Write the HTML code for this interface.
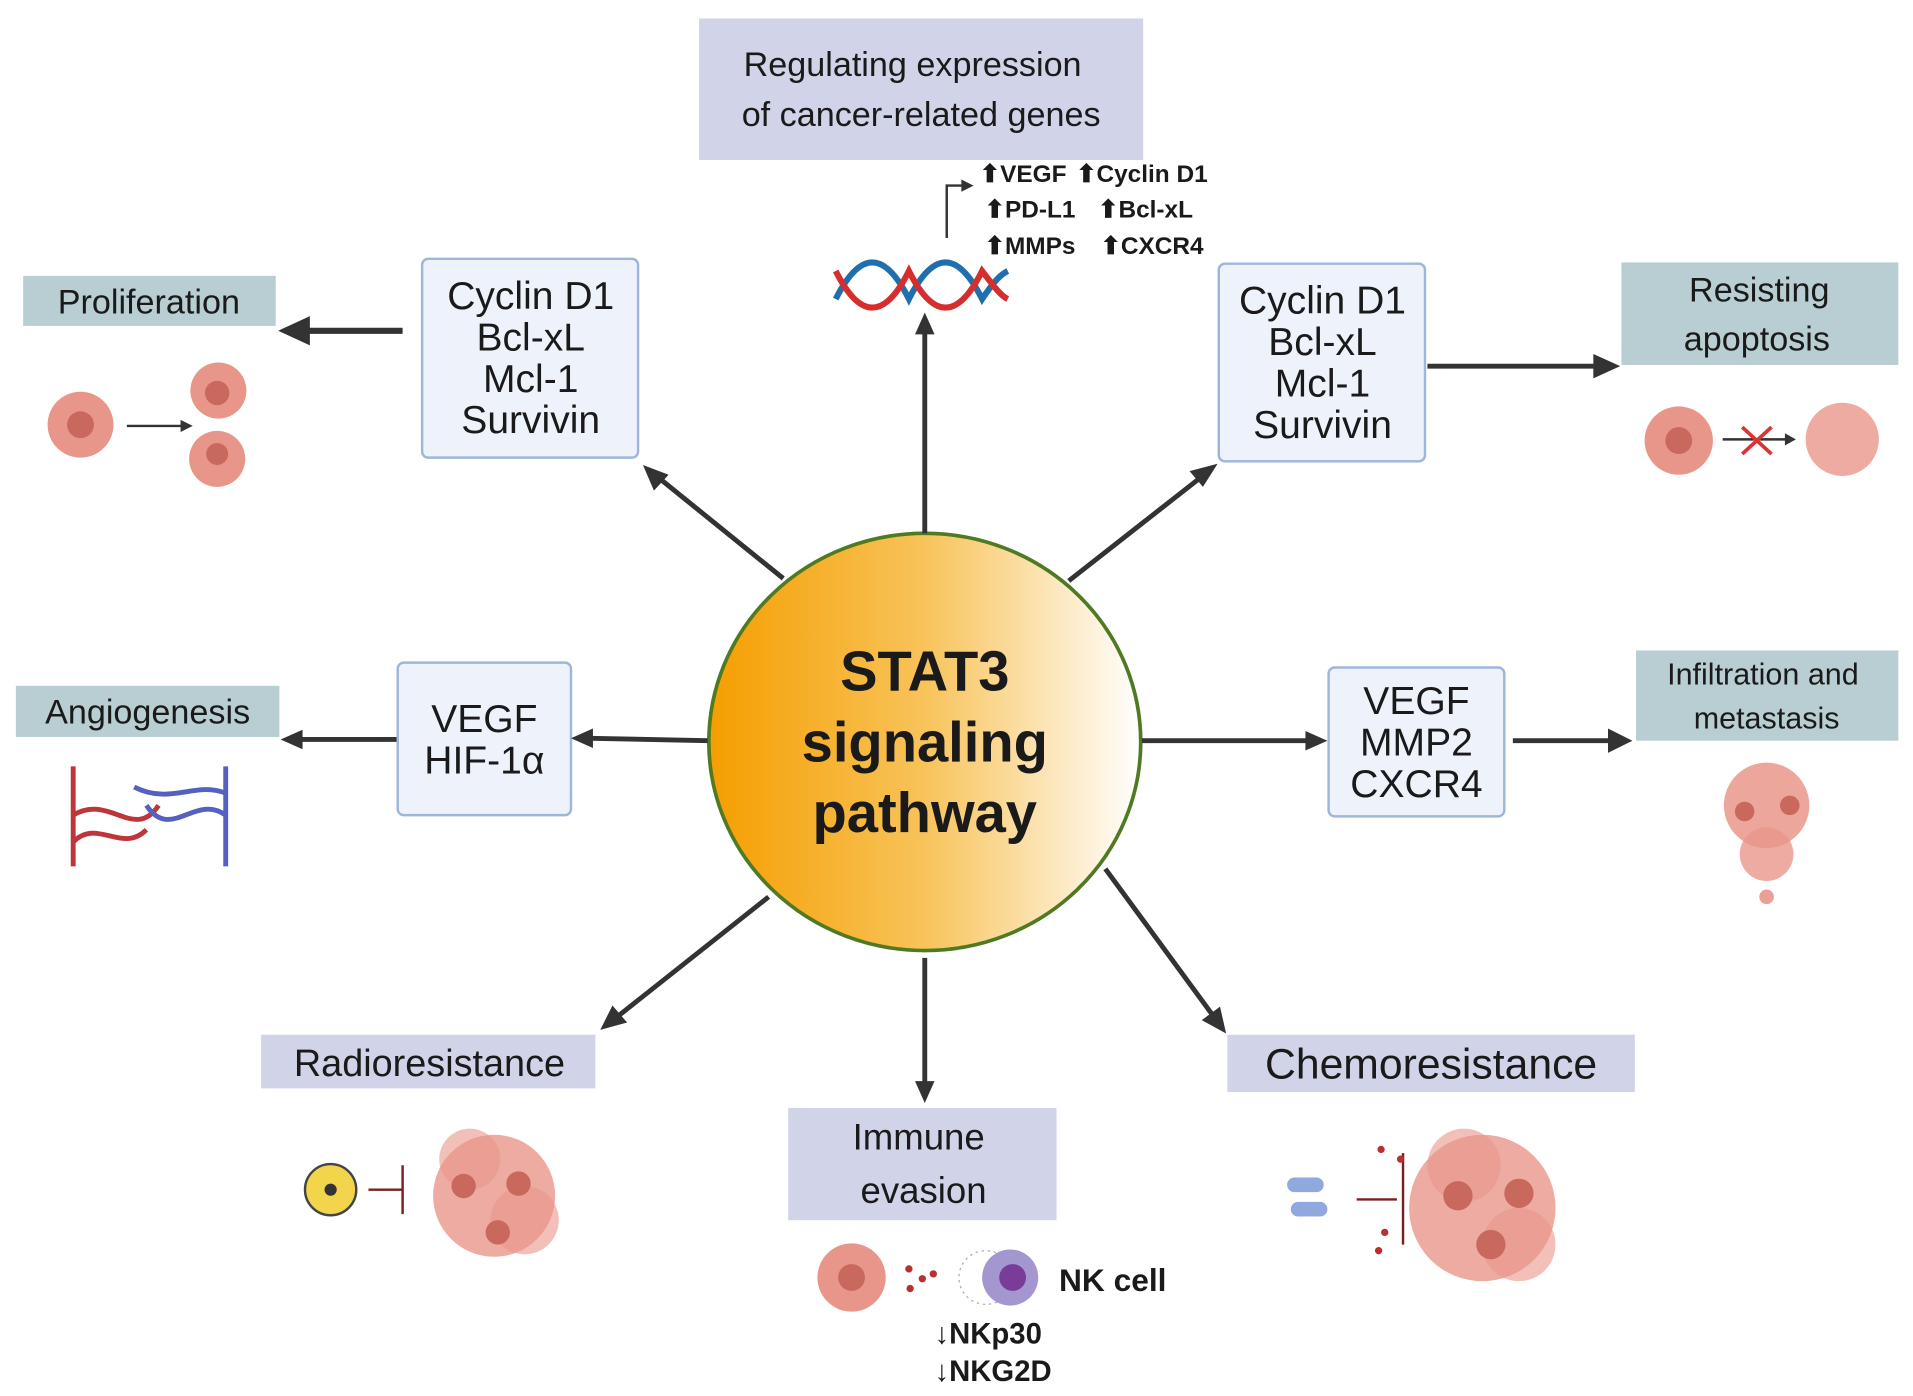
<!DOCTYPE html>
<html><head><meta charset="utf-8"><style>
html,body{margin:0;padding:0;background:#fff}
svg{display:block}
text{font-family:"Liberation Sans",sans-serif;fill:#1a1a1a}
</style></head><body>
<svg width="1913" height="1396" viewBox="0 0 1568 1144" xmlns="http://www.w3.org/2000/svg">
<defs>
<linearGradient id="g" x1="0" x2="1" y1="0" y2="0">
<stop offset="0" stop-color="#f59e00"/><stop offset="0.5" stop-color="#f8c35a"/><stop offset="1" stop-color="#ffffff"/>
</linearGradient>
</defs>
<!-- boxes -->
<rect x="573" y="15" width="364" height="116" fill="#d1d4e9"/>
<text x="748" y="62" font-size="28" text-anchor="middle">Regulating expression</text>
<text x="755" y="103" font-size="28" text-anchor="middle">of cancer-related genes</text>

<rect x="19" y="226" width="207" height="41" fill="#b9ced2"/>
<text x="122" y="257" font-size="28" text-anchor="middle">Proliferation</text>

<rect x="346" y="212" width="177" height="163" rx="5" fill="#eef3fb" stroke="#9db6da" stroke-width="2"/>
<g font-size="32" text-anchor="middle"><text x="435" y="253">Cyclin D1</text><text x="435" y="287">Bcl-xL</text><text x="435" y="321">Mcl-1</text><text x="435" y="355">Survivin</text></g>

<rect x="999" y="216" width="169" height="162" rx="5" fill="#eef3fb" stroke="#9db6da" stroke-width="2"/>
<g font-size="32" text-anchor="middle"><text x="1084" y="257">Cyclin D1</text><text x="1084" y="291">Bcl-xL</text><text x="1084" y="325">Mcl-1</text><text x="1084" y="359">Survivin</text></g>

<rect x="1329" y="215" width="227" height="84" fill="#b9ced2"/>
<text x="1442" y="247" font-size="28" text-anchor="middle">Resisting</text>
<text x="1440" y="287" font-size="28" text-anchor="middle">apoptosis</text>

<rect x="13" y="562" width="216" height="42" fill="#b9ced2"/>
<text x="121" y="593" font-size="28" text-anchor="middle">Angiogenesis</text>

<rect x="326" y="543" width="142" height="125" rx="5" fill="#eef3fb" stroke="#9db6da" stroke-width="2"/>
<g font-size="32" text-anchor="middle"><text x="397" y="600">VEGF</text><text x="397" y="634">HIF-1α</text></g>

<rect x="1089" y="547" width="144" height="122" rx="5" fill="#eef3fb" stroke="#9db6da" stroke-width="2"/>
<g font-size="32" text-anchor="middle"><text x="1161" y="585">VEGF</text><text x="1161" y="619">MMP2</text><text x="1161" y="653">CXCR4</text></g>

<rect x="1341" y="533" width="215" height="74" fill="#b9ced2"/>
<text x="1445" y="561" font-size="25" text-anchor="middle">Infiltration and</text>
<text x="1448" y="597" font-size="25" text-anchor="middle">metastasis</text>

<rect x="214" y="848" width="274" height="44" fill="#d1d4e9"/>
<text x="352" y="882" font-size="31" text-anchor="middle">Radioresistance</text>

<rect x="646" y="908" width="220" height="92" fill="#d1d4e9"/>
<text x="753" y="942" font-size="30" text-anchor="middle">Immune</text>
<text x="757" y="986" font-size="30" text-anchor="middle">evasion</text>

<rect x="1006" y="848" width="334" height="47" fill="#d1d4e9"/>
<text x="1173" y="884" font-size="35" text-anchor="middle">Chemoresistance</text>

<!-- circle -->
<ellipse cx="758" cy="608" rx="177" ry="171" fill="url(#g)" stroke="#4f7a22" stroke-width="3"/>
<g font-size="46" font-weight="bold" text-anchor="middle">
<text x="758" y="566">STAT3</text><text x="758" y="624">signaling</text><text x="758" y="682">pathway</text></g>

<!-- arrows -->
<g stroke="#333" stroke-width="4" fill="none">
<line x1="758" y1="437" x2="758" y2="272"/>
<line x1="642" y1="474" x2="538" y2="390"/>
<line x1="876" y1="476" x2="987" y2="389"/>
<line x1="580" y1="607" x2="484" y2="605"/>
<line x1="936" y1="607" x2="1072" y2="607"/>
<line x1="630" y1="735" x2="505" y2="834"/>
<line x1="758" y1="785" x2="758" y2="888"/>
<line x1="906" y1="712" x2="994" y2="832"/>
<line x1="330" y1="271" x2="250" y2="271" stroke-width="5"/>
<line x1="1170" y1="300" x2="1308" y2="300"/>
<line x1="325" y1="606" x2="246" y2="606"/>
<line x1="1240" y1="607" x2="1320" y2="607"/>
</g>
<g fill="#333">
<polygon points="758,256 750,274 766,274"/>
<polygon points="527,381 548,389 536,402"/>
<polygon points="998,380 986,399 975,386"/>
<polygon points="468,605 486,597 486,613"/>
<polygon points="1088,607 1070,599 1070,615"/>
<polygon points="492,844 502,824 514,838"/>
<polygon points="758,904 750,886 766,886"/>
<polygon points="1005,847 985,836 1000,825"/>
<polygon points="228,271 254,259 254,283"/>
<polygon points="1328,300 1306,290 1306,310"/>
<polygon points="230,606 248,598 248,614"/>
<polygon points="1338,607 1318,597 1318,617"/>
</g>

<!-- gene list -->
<path d="M776 195 V152 H790" stroke="#333" stroke-width="2" fill="none"/>
<polygon points="798,152 788,147 788,157" fill="#333"/>
<g font-size="20" font-weight="bold">
<text x="803" y="149">⬆VEGF</text><text x="882" y="149">⬆Cyclin D1</text>
<text x="807" y="178">⬆PD-L1</text><text x="900" y="178">⬆Bcl-xL</text>
<text x="807" y="208">⬆MMPs</text><text x="902" y="208">⬆CXCR4</text>
</g>
<!-- DNA -->
<path d="M685 245 C705 205 725 205 745 245 C765 205 785 205 805 245 C815 230 820 225 826 222" stroke="#1f6fae" stroke-width="5" fill="none"/>
<path d="M685 222 C705 262 725 262 745 222 C765 262 785 262 805 222 C815 235 820 242 826 245" stroke="#d62e2e" stroke-width="5" fill="none"/>

<!-- cells -->
<g fill="#e9968a">
<circle cx="66" cy="348" r="27"/><circle cx="179" cy="320" r="23"/><circle cx="178" cy="376" r="23"/>
<circle cx="1376" cy="361" r="28"/><circle cx="1510" cy="360" r="30" opacity="0.8"/>
<circle cx="1448" cy="660" r="35" opacity="0.85"/><circle cx="1448" cy="700" r="22" opacity="0.8"/>
<circle cx="1448" cy="735" r="6" opacity="0.9"/>
<circle cx="405" cy="980" r="50" opacity="0.8"/>
<circle cx="385" cy="950" r="25" opacity="0.6"/><circle cx="430" cy="1000" r="28" opacity="0.6"/>
<circle cx="698" cy="1047" r="28"/>
<circle cx="1215" cy="990" r="60" opacity="0.8"/>
<circle cx="1200" cy="955" r="30" opacity="0.6"/><circle cx="1245" cy="1020" r="30" opacity="0.6"/>
</g>
<g fill="#c9685c">
<circle cx="66" cy="348" r="11"/><circle cx="178" cy="322" r="10"/><circle cx="178" cy="372" r="9"/>
<circle cx="1376" cy="361" r="11"/><circle cx="698" cy="1047" r="11"/>
<circle cx="380" cy="972" r="10"/><circle cx="425" cy="970" r="10"/><circle cx="408" cy="1010" r="10"/>
<circle cx="1195" cy="980" r="12"/><circle cx="1245" cy="978" r="12"/><circle cx="1222" cy="1020" r="12"/>
<circle cx="1430" cy="665" r="8"/><circle cx="1467" cy="660" r="8"/>
</g>
<line x1="104" y1="349" x2="150" y2="349" stroke="#333" stroke-width="2"/>
<polygon points="158,349 148,344 148,354" fill="#333"/>
<line x1="1412" y1="360" x2="1465" y2="360" stroke="#333" stroke-width="2"/>
<polygon points="1472,360 1463,355 1463,365" fill="#333"/>
<path d="M1428 350 L1452 372 M1452 350 L1428 372" stroke="#d33" stroke-width="3"/>
<!-- vessels -->
<path d="M60 628 V710 M60 668 C90 650 110 690 130 660 M60 690 C80 670 100 700 120 680" stroke="#c0353a" stroke-width="4" fill="none"/>
<path d="M185 628 V710 M185 668 C160 650 140 690 120 660 M185 650 C160 640 140 660 110 645" stroke="#5560c0" stroke-width="4" fill="none"/>
<!-- radiation -->
<circle cx="271" cy="975" r="21" fill="#f2d54a" stroke="#444" stroke-width="2"/>
<circle cx="271" cy="975" r="5" fill="#333"/>
<path d="M302 975 H330 M330 955 V995" stroke="#7a2020" stroke-width="2" fill="none"/>
<!-- pills -->
<rect x="1055" y="965" width="30" height="12" rx="6" fill="#8fa8dd"/>
<rect x="1058" y="985" width="30" height="12" rx="6" fill="#8fa8dd"/>
<path d="M1112 983 H1145 M1150 945 V1020" stroke="#7a2020" stroke-width="2" fill="none"/>
<g fill="#b83030"><circle cx="1132" cy="942" r="3"/><circle cx="1148" cy="950" r="3"/><circle cx="1135" cy="1010" r="3"/><circle cx="1130" cy="1025" r="3"/></g>
<!-- NK -->
<circle cx="808" cy="1047" r="22" fill="none" stroke="#aaa" stroke-dasharray="2 3"/>
<circle cx="828" cy="1047" r="23" fill="#a496cf"/><circle cx="830" cy="1047" r="11" fill="#7a3c99"/>
<g fill="#b83030"><circle cx="745" cy="1040" r="3"/><circle cx="756" cy="1048" r="3"/><circle cx="746" cy="1056" r="3"/><circle cx="765" cy="1044" r="3"/></g>
<text x="868" y="1058" font-size="26" font-weight="bold">NK cell</text>
<text x="766" y="1101" font-size="24" font-weight="bold">↓NKp30</text>
<text x="766" y="1132" font-size="24" font-weight="bold">↓NKG2D</text>
</svg>
</body></html>
